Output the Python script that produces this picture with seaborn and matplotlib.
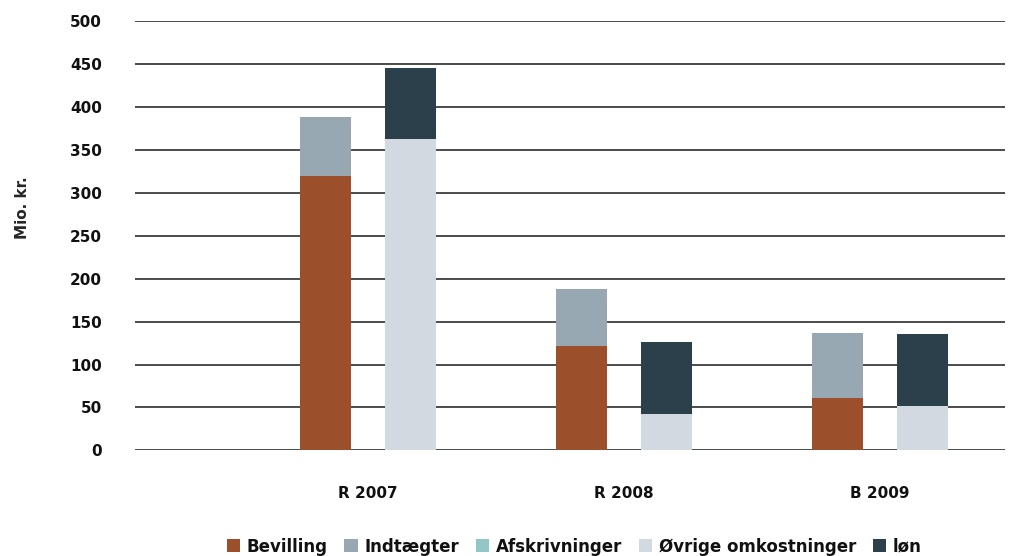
import pandas as pd
import seaborn as sns
import matplotlib.pyplot as plt
from matplotlib.patches import Patch

years = ['R 2007', 'R 2008', 'B 2009']
bevilling = [320, 122, 61]
indtaegter = [68, 66, 76]
afskrivninger = [1, 1, 1]
oevrige = [362, 41, 51]
loen = [82, 84, 84]

colors = {
    'Bevilling': '#9c4f2b',
    'Indtægter': '#97a8b3',
    'Afskrivninger': '#93c6c6',
    'Øvrige omkostninger': '#d2d9e0',
    'løn': '#2b404b',
}

sns.set_theme(style='white')
plt.rcParams['font.family'] = ['DejaVu Sans']
plt.rcParams['text.color'] = '#111111'
plt.rcParams['xtick.color'] = '#111111'
plt.rcParams['ytick.color'] = '#111111'

fig = plt.figure(figsize=(10.16, 5.56), dpi=100)
ax = fig.add_axes([0.133, 0.19, 0.856, 0.772])


def layer(left, right, c_left, c_right):
    # one level of the stack: left bar = income side, right bar = cost side
    df = pd.DataFrame({'year': years * 2,
                       'side': ['a'] * 3 + ['b'] * 3,
                       'value': list(left) + list(right)})
    sns.barplot(data=df, x='year', y='value', hue='side', order=years,
                hue_order=['a', 'b'], palette={'a': c_left, 'b': c_right},
                width=0.667, gap=0.4, linewidth=0, errorbar=None,
                saturation=1, legend=False, ax=ax)


left_total = [b + i for b, i in zip(bevilling, indtaegter)]
right_mid = [a + o for a, o in zip(afskrivninger, oevrige)]
right_total = [m + l for m, l in zip(right_mid, loen)]

layer(left_total, right_total, colors['Indtægter'], colors['løn'])
layer(bevilling, right_mid, colors['Bevilling'], colors['Øvrige omkostninger'])
layer([0, 0, 0], afskrivninger, colors['Bevilling'], colors['Afskrivninger'])

ax.set_ylim(0, 500)
ax.set_yticks(range(0, 501, 50))
ax.set_xlim(-0.91, 2.488)
ax.yaxis.grid(True, color='#1a1a1a', linewidth=1.1)
ax.set_axisbelow(True)
sns.despine(ax=ax, left=True, bottom=True)

ax.tick_params(axis='both', length=0, labelsize=11)
ax.tick_params(axis='x', pad=26)
ax.tick_params(axis='y', pad=24)
for lab in ax.get_xticklabels() + ax.get_yticklabels():
    lab.set_fontweight('bold')

ax.set_xlabel('')
ax.set_ylabel('Mio. kr.', fontsize=11, fontweight='bold')
ax.yaxis.set_label_coords(-0.121, 0.566)

handles = [Patch(facecolor=c, edgecolor='none', label=k) for k, c in colors.items()]
fig.legend(handles=handles, loc='center', bbox_to_anchor=(0.565, 0.017), ncol=5,
           frameon=False, handlelength=0.8, handleheight=0.8, handletextpad=0.4,
           columnspacing=1.0, prop={'size': 12, 'weight': 'bold'})

fig.savefig('out.png', dpi=100)
